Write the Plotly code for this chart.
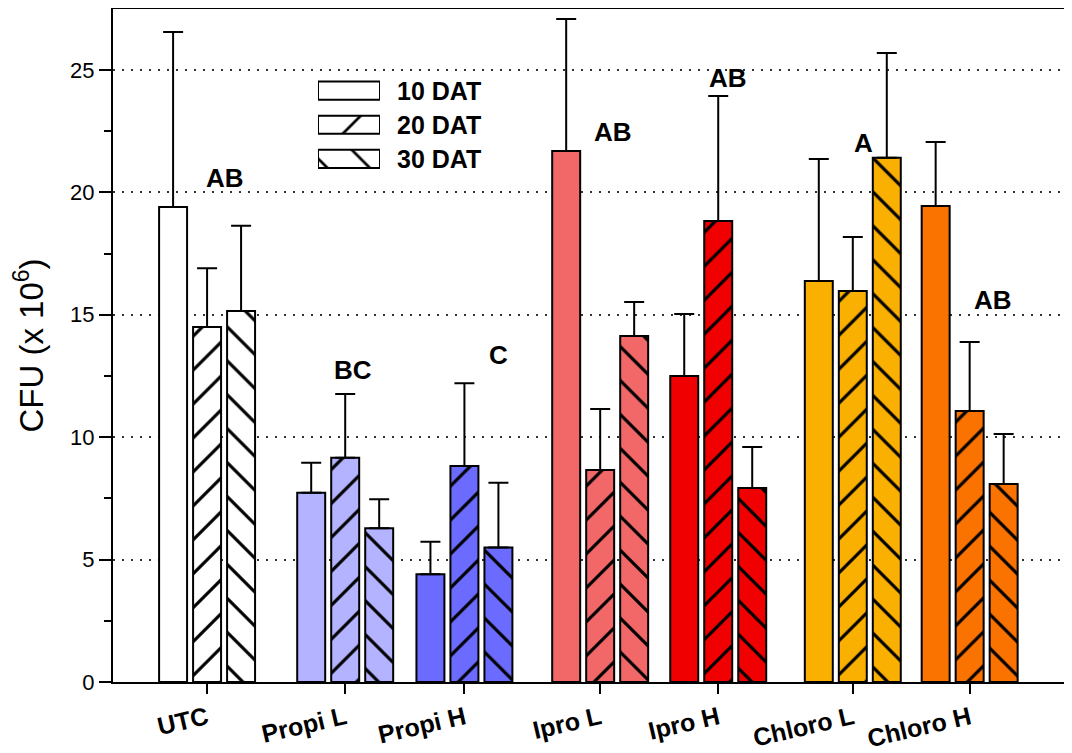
import plotly.graph_objects as go

groups = ["UTC", "Propi L", "Propi H", "Ipro L", "Ipro H", "Chloro L", "Chloro H"]
group_pos = [0.0, 1.17, 2.18, 3.33, 4.33, 5.47, 6.46]
colors = ["#ffffff", "#b3b3ff", "#6b6bff", "#f26868", "#f00000", "#fab000", "#fa7200"]

series_names = ["10 DAT", "20 DAT", "30 DAT"]
series_shapes = ["", "/", "\\"]
means = [
    [19.4, 7.73, 4.40, 21.69, 12.5, 16.38, 19.44],
    [14.5, 9.16, 8.82, 8.66, 18.83, 15.97, 11.07],
    [15.15, 6.28, 5.49, 14.13, 7.92, 21.41, 8.09],
]
err_top = [
    [26.55, 8.96, 5.73, 27.08, 15.03, 21.36, 22.06],
    [16.9, 11.76, 12.2, 11.15, 23.94, 18.18, 13.89],
    [18.64, 7.46, 8.14, 15.52, 9.6, 25.69, 10.13],
]

letters = ["AB", "BC", "C", "AB", "AB", "A", "AB"]
letter_x = [0.15, 1.24, 2.47, 3.44, 4.41, 5.56, 6.66]
letter_y = [20.6, 12.75, 13.36, 22.47, 24.67, 22.02, 15.6]

FONT = "Liberation Sans, Arial, sans-serif"
bar_w = 0.237
pitch = 0.288

fig = go.Figure()
for i, name in enumerate(series_names):
    for g in range(len(groups)):
        plus = err_top[i][g] - means[i][g]
        fig.add_trace(go.Bar(
            x=[group_pos[g]], y=[means[i][g]], name=name,
            width=bar_w, offset=(i - 1) * pitch - bar_w / 2,
            marker=dict(color=colors[g], line=dict(color="black", width=2),
                        pattern=dict(shape=series_shapes[i], fillmode="overlay",
                                     fgcolor="black", bgcolor=colors[g],
                                     fgopacity=1, size=24, solidity=0.13)),
            error_y=dict(type="data", symmetric=False, array=[plus],
                         arrayminus=[0], color="black", thickness=2, width=10),
            showlegend=False,
        ))

# legend inset
for i, name in enumerate(series_names):
    fig.add_trace(go.Bar(
        x=[1], y=[i], orientation="h", width=0.53,
        marker=dict(color="white", line=dict(color="black", width=2),
                    pattern=dict(shape=series_shapes[i], fillmode="overlay",
                                 fgcolor="black", bgcolor="white", fgopacity=1,
                                 size=30, solidity=0.09)),
        xaxis="x2", yaxis="y2", showlegend=False, hoverinfo="skip",
    ))

leg_dom = [0.752, 0.904]
ann = []
for t, x, y in zip(letters, letter_x, letter_y):
    ann.append(dict(x=x, y=y, xref="x", yref="y", text=t, showarrow=False,
                    font=dict(family=FONT, size=26, color="black", weight="bold")))
for i, name in enumerate(series_names):
    yc = leg_dom[1] - (i + 0.5) * (leg_dom[1] - leg_dom[0]) / 3
    ann.append(dict(x=0.2947, y=yc, xref="paper", yref="paper", text=name,
                    showarrow=False, xanchor="left", yanchor="middle",
                    font=dict(family=FONT, size=25, color="black", weight="bold")))

fig.update_layout(
    width=1064, height=745,
    margin=dict(l=105, r=2, t=1, b=71),
    paper_bgcolor="white", plot_bgcolor="white",
    barmode="overlay",
    annotations=ann,
    xaxis=dict(range=[-0.797, 7.31], tickvals=group_pos, ticktext=groups,
               tickangle=-13, ticks="outside", ticklen=10, tickwidth=2,
               tickcolor="black", showline=True, linecolor="black", linewidth=2,
               mirror=True, showgrid=False, zeroline=False, automargin=False,
               tickfont=dict(family=FONT, size=25, color="black", weight="bold")),
    yaxis=dict(range=[0, 27.49], dtick=5, tick0=0, ticks="outside", ticklen=12,
               tickwidth=2, tickcolor="black", showline=True, linecolor="black",
               linewidth=2, mirror=True, showgrid=True, gridcolor="#333333",
               griddash="2px,7px", gridwidth=2, zeroline=False, automargin=False,
               minor=dict(dtick=2.5, ticks="outside", ticklen=7, tickwidth=2,
                          tickcolor="black", showgrid=False),
               tickfont=dict(family=FONT, size=22, color="black"),
               title=dict(text="CFU (x 10<sup>6</sup>)", standoff=30,
                          font=dict(family=FONT, size=33, color="black"))),
    xaxis2=dict(domain=[0.2142, 0.279], range=[0, 1], visible=False,
                anchor="y2", fixedrange=True),
    yaxis2=dict(domain=leg_dom, range=[2.5, -0.5], visible=False,
                anchor="x2", fixedrange=True),
)

fig.write_html("out.html")
